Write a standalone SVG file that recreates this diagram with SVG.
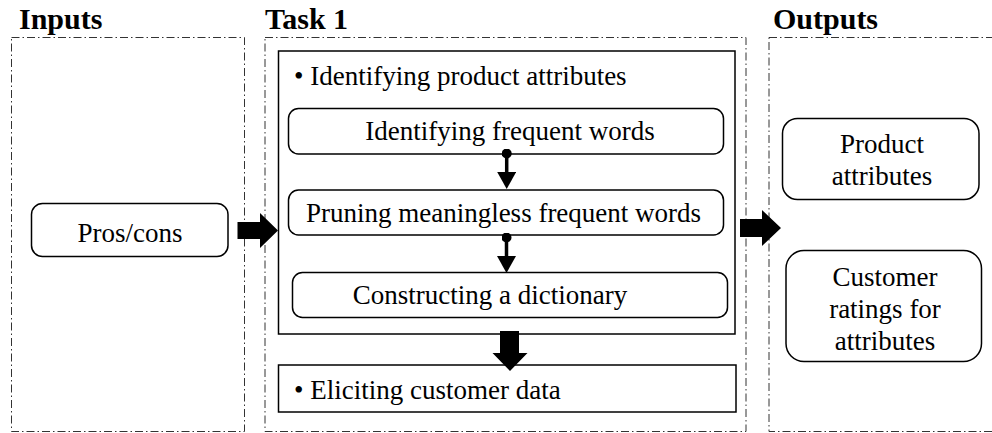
<svg xmlns="http://www.w3.org/2000/svg" width="992" height="433" viewBox="0 0 992 433">
  <defs>
    <style>
      .title { font-family: "Liberation Serif", "Times New Roman", serif; font-weight: bold; font-size: 30px; fill: #000; }
      .label { font-family: "Liberation Serif", "Times New Roman", serif; font-size: 27px; fill: #000; }
      .mid { text-anchor: middle; }
      .frame { fill: none; stroke: #333; stroke-width: 1; stroke-dasharray: 8 3 1.5 3; }
      .panel { fill: #fff; stroke: #000; stroke-width: 1.5; }
      .step { fill: #fff; stroke: #000; stroke-width: 1.5; }
      .link { stroke: #000; stroke-width: 3.5; fill: none; marker-start: url(#dot); marker-end: url(#tri); }
      .block { fill: #000; stroke: none; }
    </style>
    <marker id="dot" viewBox="0 0 10 10" refX="5" refY="5" markerWidth="10" markerHeight="10" markerUnits="userSpaceOnUse" orient="auto">
      <circle cx="5" cy="5" r="5" fill="#000"/>
    </marker>
    <marker id="tri" viewBox="0 0 17 19" refX="8" refY="9.5" markerWidth="17" markerHeight="19" markerUnits="userSpaceOnUse" orient="auto">
      <path d="M0,0 L17,9.5 L0,19 z" fill="#000"/>
    </marker>
  </defs>

  <rect width="992" height="433" fill="#fff"/>

  <!-- column frames and headings -->
  <g id="inputs">
    <rect class="frame" x="11.5" y="37.5" width="233" height="394"/>
    <text class="title" x="19" y="29">Inputs</text>
  </g>
  <g id="task1">
    <rect class="frame" x="265" y="37.5" width="481" height="394"/>
    <text class="title" x="265" y="29">Task 1</text>
  </g>
  <g id="outputs">
    <rect class="frame" x="769" y="37.5" width="240" height="394"/>
    <text class="title" x="773" y="29">Outputs</text>
  </g>

  <!-- inputs -->
  <g id="pros-cons">
    <rect class="step" x="31.5" y="203.5" width="196.5" height="53" rx="11"/>
    <text class="label mid" x="130" y="242">Pros/cons</text>
  </g>

  <!-- task 1 panels -->
  <g id="identify-attributes">
    <rect class="panel" x="278.5" y="51" width="456.5" height="283"/>
    <text class="label" x="294" y="85">• Identifying product attributes</text>
  </g>
  <g id="frequent-words">
    <rect class="step" x="288.5" y="108.5" width="435" height="45.5" rx="10"/>
    <text class="label mid" x="510" y="140">Identifying frequent words</text>
  </g>
  <g id="pruning">
    <rect class="step" x="288.5" y="190" width="435" height="45" rx="10"/>
    <text class="label mid" x="503.5" y="222">Pruning meaningless frequent words</text>
  </g>
  <g id="dictionary">
    <rect class="step" x="292.5" y="272.5" width="435" height="45" rx="10"/>
    <text class="label mid" x="490" y="303.5">Constructing a dictionary</text>
  </g>
  <g id="customer-data">
    <rect class="panel" x="278.5" y="365" width="457.5" height="47"/>
    <text class="label" x="294" y="399">• Eliciting customer data</text>
  </g>

  <!-- outputs -->
  <g id="product-attributes">
    <rect class="step" x="782.5" y="118.5" width="196.5" height="81" rx="15"/>
    <text class="label mid" x="882" y="153">Product</text>
    <text class="label mid" x="882" y="185">attributes</text>
  </g>
  <g id="customer-ratings">
    <rect class="step" x="786" y="250.5" width="195.5" height="111" rx="18"/>
    <text class="label mid" x="885" y="285.5">Customer</text>
    <text class="label mid" x="885" y="317.5">ratings for</text>
    <text class="label mid" x="885" y="350">attributes</text>
  </g>

  <!-- connectors -->
  <g id="connectors">
    <line class="link" x1="506.7" y1="153.5" x2="506.7" y2="180"/>
    <line class="link" x1="506.5" y1="237.5" x2="506.5" y2="264"/>
    <!-- block arrows between stages -->
    <polygon class="block" points="237.5,222 260,222 260,213 278,230.5 260,248 260,239 237.5,239"/>
    <polygon class="block" points="740,219 762,219 762,210 781,228 762,246 762,237 740,237"/>
    <polygon class="block" points="500,331 519,331 519,353 527.5,353 510,371 492.5,353 500,353"/>
  </g>
</svg>
